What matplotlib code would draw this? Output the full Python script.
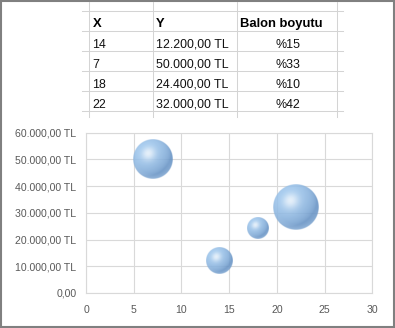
import numpy as np
import matplotlib
matplotlib.use("Agg")
import matplotlib.pyplot as plt
from matplotlib.lines import Line2D
from matplotlib.patches import Rectangle
from matplotlib.ticker import FuncFormatter, MultipleLocator

# ---- data ----
x_vals = [14, 7, 18, 22]
y_vals = [12200, 50000, 24400, 32000]
bubble_sizes = [15, 33, 10, 42]
col_headers = ["X", "Y", "Balon boyutu"]

W, H = 395, 328
DPI = 100
plt.rcParams['font.family'] = ['Liberation Sans', 'DejaVu Sans']

fig = plt.figure(figsize=(W / DPI, H / DPI), dpi=DPI)
fig.patch.set_facecolor('white')


def fx(px):
    return px / W


def fy(py):
    return 1 - py / H


def tl(v, with_unit=True):
    s = f"{v:,.2f}".replace(",", "X").replace(".", ",").replace("X", ".")
    return s + (" TL" if with_unit else "")


# ---- spreadsheet table ----
grid_c = '#d4d4d4'
vlines = [89.3, 153.3, 237.3, 336.7]
hlines = [11, 30.7, 50.7, 71, 90.7, 110.7]
for vx in vlines:
    fig.add_artist(Line2D([fx(vx), fx(vx)], [fy(2), fy(117)], color=grid_c, lw=0.75))
for hy in hlines:
    fig.add_artist(Line2D([fx(82), fx(343)], [fy(hy), fy(hy)], color=grid_c, lw=0.75))

baselines = [27.3, 47.7, 67.7, 87.7, 107.7]
fs_tab = 8.9
fs_head = 9.4
fig.text(fx(92.5), fy(baselines[0]), col_headers[0], fontsize=fs_head, fontweight='bold', va='baseline', ha='left')
fig.text(fx(156), fy(baselines[0]), col_headers[1], fontsize=fs_head, fontweight='bold', va='baseline', ha='left')
fig.text(fx(240), fy(baselines[0]), col_headers[2], fontsize=fs_head, fontweight='bold', va='baseline', ha='left')
for i, (xv, yv, sv) in enumerate(zip(x_vals, y_vals, bubble_sizes)):
    yy = fy(baselines[i + 1])
    fig.text(fx(92.5), yy, str(xv), fontsize=fs_tab, va='baseline', ha='left', color='#111111')
    fig.text(fx(156), yy, tl(yv), fontsize=fs_tab, va='baseline', ha='left', color='#111111')
    fig.text(fx(288), yy, f"%{sv}", fontsize=fs_tab, va='baseline', ha='center', color='#111111')

# ---- bubble chart ----
L, R, T, B = 86, 372.3, 132.7, 293
ax = fig.add_axes([fx(L), fy(B), fx(R) - fx(L), fy(T) - fy(B)])
ax.set_xlim(0, 30)
ax.set_ylim(0, 60000)
ax.xaxis.set_major_locator(MultipleLocator(5))
ax.yaxis.set_major_locator(MultipleLocator(10000))
ax.yaxis.set_major_formatter(FuncFormatter(lambda v, p: "0,00" if v == 0 else tl(v)))
ax.grid(True, color='#d9d9d9', lw=0.8)
ax.set_axisbelow(True)
for sp in ax.spines.values():
    sp.set_color('#d9d9d9')
    sp.set_linewidth(0.8)
ax.tick_params(length=0, labelsize=7.6, labelcolor='#595959')
ax.tick_params(axis='x', pad=8.5)
ax.tick_params(axis='y', pad=7)

# sphere image
N = 160
u = np.linspace(-1, 1, N)
U, V = np.meshgrid(u, u)
r2 = U ** 2 + V ** 2
Z = np.sqrt(np.clip(1 - r2, 0, 1))
Ld = np.array([-0.45, 0.55, 0.75])
Ld = Ld / np.linalg.norm(Ld)
diff = np.clip(U * Ld[0] + V * Ld[1] + Z * Ld[2], 0, 1)
Hd = Ld + np.array([0, 0, 1.0])
Hd = Hd / np.linalg.norm(Hd)
spec = np.clip(U * Hd[0] + V * Hd[1] + Z * Hd[2], 0, 1) ** 16
dark = np.array([0x66, 0x92, 0xc4]) / 255
light = np.array([0xa0, 0xc8, 0xee]) / 255
img = dark[None, None, :] + (light - dark)[None, None, :] * (diff[..., None] ** 0.7)
img = img + spec[..., None] * (np.array([1, 1, 1]) - img) * 0.7
# bottom rim reflection
rim = np.clip((np.sqrt(r2) - 0.75) / 0.25, 0, 1) * np.clip(-V, 0, 1)
img = img + rim[..., None] * (np.array([0.78, 0.88, 0.97]) - img) * 0.35
img = np.clip(img, 0, 1)
edge = np.clip((1 - np.sqrt(r2)) * N / 2, 0, 1)
alpha = edge * 0.88
rgba = np.dstack([img, alpha])

px_per_x = (R - L) / 30
px_per_y = (B - T) / 60000
scale_pt = 5.0  # diameter (pt) = scale_pt * sqrt(size)
for xv, yv, sv in zip(x_vals, y_vals, bubble_sizes):
    d_px = scale_pt * np.sqrt(sv) * DPI / 72
    rx = d_px / 2 / px_per_x
    ry = d_px / 2 / px_per_y
    ax.imshow(rgba, extent=[xv - rx, xv + rx, yv - ry, yv + ry], origin='lower',
              aspect='auto', interpolation='bilinear', zorder=3)
ax.set_xlim(0, 30)
ax.set_ylim(0, 60000)

# outer frame
fig.add_artist(Rectangle((fx(1), fy(327)), fx(393.5) - fx(1), fy(1) - fy(327),
                         fill=False, edgecolor='#808080', lw=1.5))

fig.savefig("out.png", dpi=DPI)
